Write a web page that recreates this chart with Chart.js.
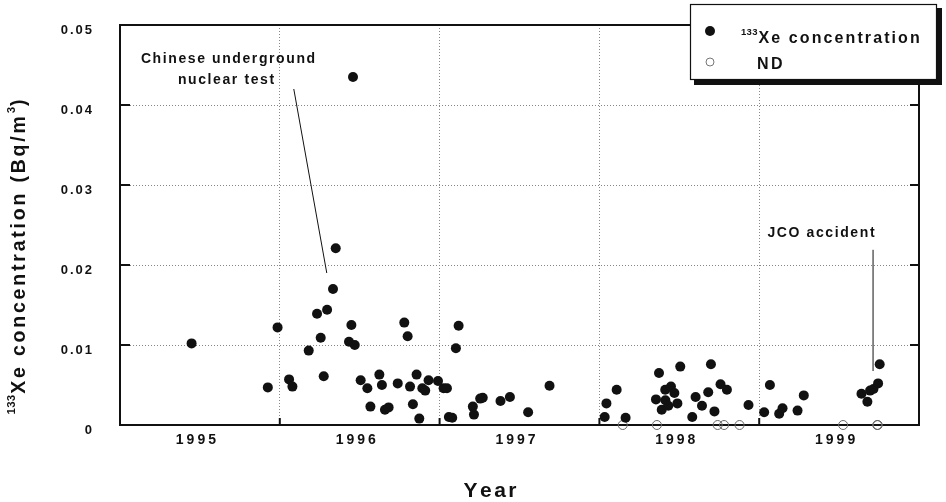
<!DOCTYPE html>
<html>
<head>
<meta charset="utf-8">
<script src="https://cdn.jsdelivr.net/npm/chart.js@4.4.0/dist/chart.umd.min.js"></script>
<style>
  html, body { margin: 0; padding: 0; background: #fff; }
  #wrap { width: 946px; height: 502px; }
</style>
</head>
<body>
<div id="wrap"><canvas id="chart" width="946" height="502"></canvas></div>
<script>
const yearLabels = ["1995", "1996", "1997", "1998", "1999"];
const yTickValues = [0, 0.01, 0.02, 0.03, 0.04, 0.05];
const yTickLabels = ["0", "0.01", "0.02", "0.03", "0.04", "0.05"];

// 133Xe detections: sampling date (decimal year)
const xeYears = [
  1995.448, 1995.925, 1995.986, 1996.058, 1996.079, 1996.181, 1996.233, 1996.256,
  1996.275, 1996.296, 1996.333, 1996.350, 1996.433, 1996.448, 1996.458, 1996.469,
  1996.506, 1996.548, 1996.567, 1996.623, 1996.639, 1996.658, 1996.681, 1996.738,
  1996.779, 1996.800, 1996.815, 1996.833, 1996.856, 1996.873, 1996.892, 1996.910,
  1996.931, 1996.990, 1997.025, 1997.046, 1997.058, 1997.079, 1997.102, 1997.119,
  1997.208, 1997.215, 1997.254, 1997.270, 1997.381, 1997.440, 1997.554, 1997.688,
  1998.033, 1998.044, 1998.108, 1998.164, 1998.354, 1998.373, 1998.390, 1998.412,
  1998.413, 1998.431, 1998.448, 1998.469, 1998.488, 1998.506, 1998.581, 1998.602,
  1998.642, 1998.681, 1998.698, 1998.720, 1998.758, 1998.798, 1998.933, 1999.031,
  1999.067, 1999.125, 1999.146, 1999.240, 1999.279, 1999.640, 1999.677, 1999.694,
  1999.715, 1999.744, 1999.754
];
// 133Xe concentration, Bq/m3
const xeValues = [
  0.0102, 0.0047, 0.0122, 0.0057, 0.0048, 0.0093, 0.0139, 0.0109,
  0.0061, 0.0144, 0.0170, 0.0221, 0.0104, 0.0125, 0.0435, 0.0100,
  0.0056, 0.0046, 0.0023, 0.0063, 0.0050, 0.0019, 0.0022, 0.0052,
  0.0128, 0.0111, 0.0048, 0.0026, 0.0063, 0.0008, 0.0046, 0.0043,
  0.0056, 0.0055, 0.0046, 0.0046, 0.0010, 0.0009, 0.0096, 0.0124,
  0.0023, 0.0013, 0.0033, 0.0034, 0.0030, 0.0035, 0.0016, 0.0049,
  0.0010, 0.0027, 0.0044, 0.0009, 0.0032, 0.0065, 0.0019, 0.0044,
  0.0031, 0.0024, 0.0048, 0.0040, 0.0027, 0.0073, 0.0010, 0.0035,
  0.0024, 0.0041, 0.0076, 0.0017, 0.0051, 0.0044, 0.0025, 0.0016,
  0.0050, 0.0014, 0.0021, 0.0018, 0.0037, 0.0039, 0.0029, 0.0043,
  0.0045, 0.0052, 0.0076
];

// samples below the detection limit
const ndYears = [1998.146, 1998.360, 1998.740, 1998.780, 1998.877, 1999.525, 1999.738, 1999.742];
const ndValues = [0, 0, 0, 0, 0, 0, 0, 0];

const FONT = '"Liberation Sans", Arial, Helvetica, sans-serif';

function textWidth(ctx, str, sp) {
  let w = 0;
  for (const ch of str) w += ctx.measureText(ch).width;
  return w + sp * Math.max(0, str.length - 1);
}

// canvas text with manual letter spacing
function drawSpaced(ctx, str, x, y, sp, align) {
  const w = textWidth(ctx, str, sp);
  let cx = align === "center" ? x - w / 2 : align === "right" ? x - w : x;
  ctx.textAlign = "left";
  for (const ch of str) {
    ctx.fillText(ch, cx, y);
    cx += ctx.measureText(ch).width + sp;
  }
  return w;
}

// runs of [text, superscript?] drawn left to right
function drawRuns(ctx, runs, x, y, size, supSize, sp) {
  let cx = x;
  runs.forEach(([t, sup]) => {
    ctx.font = `bold ${sup ? supSize : size}px ${FONT}`;
    const w = drawSpaced(ctx, t, cx, sup ? y - size * 0.42 : y, sup ? 0.3 : sp, "left");
    cx += w + (sup ? 1 : sp);
  });
}

function runsWidth(ctx, runs, size, supSize, sp) {
  let w = 0;
  runs.forEach(([t, sup]) => {
    ctx.font = `bold ${sup ? supSize : size}px ${FONT}`;
    w += textWidth(ctx, t, sup ? 0.3 : sp) + (sup ? 1 : sp);
  });
  return w - sp;
}

const decorations = {
  id: "decorations",
  afterDraw(chart) {
    const { ctx, chartArea: a } = chart;
    const xs = chart.scales.x, ys = chart.scales.y;
    ctx.save();
    ctx.fillStyle = "#111";
    ctx.strokeStyle = "#111";
    ctx.textBaseline = "middle";

    // top and right frame
    ctx.lineWidth = 2;
    ctx.beginPath();
    ctx.moveTo(a.left, a.top);
    ctx.lineTo(a.right, a.top);
    ctx.lineTo(a.right, a.bottom);
    ctx.stroke();

    // inward tick marks
    yTickValues.forEach(v => {
      const py = ys.getPixelForValue(v);
      ctx.beginPath();
      ctx.moveTo(a.left, py); ctx.lineTo(a.left + 10, py);
      ctx.moveTo(a.right, py); ctx.lineTo(a.right - 9, py);
      ctx.stroke();
    });
    yearLabels.forEach(label => {
      const px = xs.getPixelForValue(Number(label));
      ctx.beginPath();
      ctx.moveTo(px, a.bottom); ctx.lineTo(px, a.bottom - 7);
      ctx.stroke();
    });

    // tick labels
    ctx.font = `bold 13px ${FONT}`;
    yTickValues.forEach((v, i) => {
      drawSpaced(ctx, yTickLabels[i], 92, ys.getPixelForValue(v) + 5, 2, "right");
    });
    ctx.font = `bold 14px ${FONT}`;
    yearLabels.forEach(label => {
      const px = xs.getPixelForValue(Number(label) + 0.5);
      drawSpaced(ctx, label, px - 4, a.bottom + 15, 3, "center");
    });

    // axis titles
    ctx.font = `bold 21px ${FONT}`;
    drawSpaced(ctx, "Year", 490, 491, 2.5, "center");

    const yTitle = [["133", true], ["Xe concentration (Bq/m", false], ["3", true], [")", false]];
    ctx.save();
    ctx.translate(20, 257);
    ctx.rotate(-Math.PI / 2);
    const tw = runsWidth(ctx, yTitle, 19.5, 11.5, 2.8);
    drawRuns(ctx, yTitle, -tw / 2, 0, 19.5, 11.5, 2.8);
    ctx.restore();

    // event annotations
    ctx.font = `bold 14px ${FONT}`;
    drawSpaced(ctx, "Chinese underground", 228, 59, 1.6, "center");
    drawSpaced(ctx, "nuclear test", 226, 80, 1.6, "center");
    drawSpaced(ctx, "JCO accident", 821, 233, 1.6, "center");
    ctx.lineWidth = 1;
    ctx.beginPath();
    ctx.moveTo(xs.getPixelForValue(1996.0875), ys.getPixelForValue(0.042));
    ctx.lineTo(xs.getPixelForValue(1996.294), ys.getPixelForValue(0.019));
    ctx.moveTo(xs.getPixelForValue(1999.7125), ys.getPixelForValue(0.0219));
    ctx.lineTo(xs.getPixelForValue(1999.7125), ys.getPixelForValue(0.00675));
    ctx.stroke();

    // legend box with drop shadow
    ctx.fillStyle = "#111";
    ctx.fillRect(694, 8, 248, 77);
    ctx.fillStyle = "#fff";
    ctx.fillRect(690, 4, 247, 76);
    ctx.lineWidth = 1.2;
    ctx.strokeRect(690.5, 4.5, 246, 75);

    ctx.fillStyle = "#111";
    ctx.beginPath();
    ctx.arc(710, 31, 5, 0, Math.PI * 2);
    ctx.fill();
    ctx.strokeStyle = "#777";
    ctx.lineWidth = 1;
    ctx.beginPath();
    ctx.arc(710, 62, 4, 0, Math.PI * 2);
    ctx.stroke();

    drawRuns(ctx, [["133", true], ["Xe concentration", false]], 741, 39, 16, 9.5, 2.1);
    ctx.font = `bold 16px ${FONT}`;
    drawSpaced(ctx, "ND", 757, 65, 2.5, "left");
    ctx.restore();
  }
};

new Chart(document.getElementById("chart"), {
  type: "scatter",
  data: {
    datasets: [
      {
        label: "133Xe concentration",
        data: xeYears.map((x, i) => ({ x, y: xeValues[i] })),
        pointRadius: 5,
        pointHoverRadius: 5,
        backgroundColor: "#111",
        borderWidth: 0,
        clip: false
      },
      {
        label: "ND",
        data: ndYears.map((x, i) => ({ x, y: ndValues[i] })),
        pointRadius: 4.5,
        pointHoverRadius: 4.5,
        backgroundColor: "rgba(255,255,255,0)",
        borderColor: "#666",
        borderWidth: 1,
        clip: false
      }
    ]
  },
  options: {
    responsive: false,
    animation: false,
    events: [],
    layout: { padding: { top: 25, right: 27, left: 0, bottom: 0 } },
    plugins: {
      legend: { display: false },
      tooltip: { enabled: false }
    },
    scales: {
      x: {
        type: "linear",
        min: 1995,
        max: 2000,
        ticks: { stepSize: 1, display: false },
        grid: { color: "#888", lineWidth: 1, drawTicks: false },
        border: { display: true, color: "#111", width: 2, dash: [1, 2] },
        afterFit: s => { s.height = 77; }
      },
      y: {
        min: 0,
        max: 0.05,
        ticks: { stepSize: 0.01, display: false },
        grid: { color: "#888", lineWidth: 1, drawTicks: false },
        border: { display: true, color: "#111", width: 2, dash: [1, 2] },
        afterFit: s => { s.width = 120; }
      }
    }
  },
  plugins: [decorations]
});
</script>
</body>
</html>
